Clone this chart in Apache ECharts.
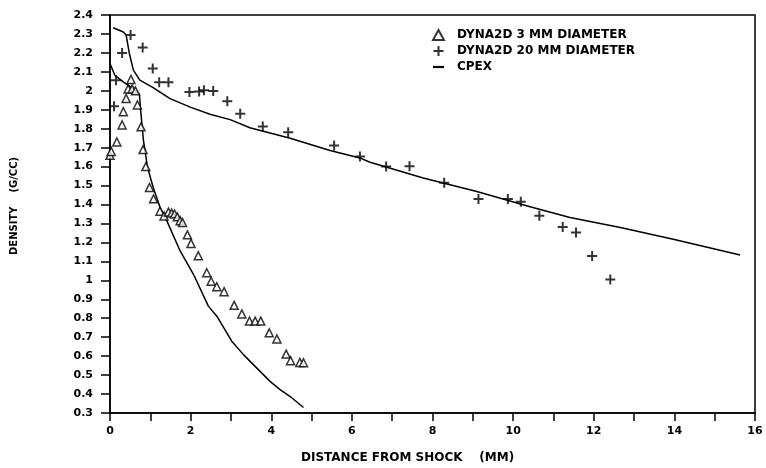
<!DOCTYPE html>
<html>
<head>
<meta charset="utf-8">
<script src="https://cdn.jsdelivr.net/npm/echarts@6/dist/echarts.min.js"></script>
<style>html,body{margin:0;padding:0;background:#fff}#c{width:766px;height:468px}</style>
</head>
<body>
<div id="c"></div>
<script>
// ---- data ----
const seriesNames = ['DYNA2D 3 MM DIAMETER', 'DYNA2D 20 MM DIAMETER', 'CPEX'];
const xTitle = 'DISTANCE FROM SHOCK    (MM)';
const yTitle = 'DENSITY    (G/CC)';

const dyna3mm = [
  [0.0,1.66],[0.03,1.68],[0.17,1.73],[0.30,1.82],[0.33,1.89],[0.40,1.96],[0.45,2.01],
  [0.52,2.06],[0.55,2.01],[0.63,2.0],[0.68,1.925],[0.77,1.81],[0.82,1.69],[0.89,1.60],
  [0.98,1.49],[1.08,1.43],[1.24,1.365],[1.34,1.34],[1.45,1.36],[1.53,1.355],[1.60,1.35],
  [1.67,1.335],[1.74,1.315],[1.80,1.305],[1.92,1.24],[2.01,1.195],[2.19,1.13],[2.40,1.04],
  [2.51,0.995],[2.65,0.966],[2.83,0.94],[3.08,0.868],[3.27,0.823],[3.46,0.785],[3.60,0.785],
  [3.74,0.785],[3.95,0.723],[4.14,0.691],[4.37,0.611],[4.48,0.576],[4.71,0.567],[4.80,0.565]
];

const dyna20mm = [
  [0.15,2.056],[0.10,1.918],[0.30,2.199],[0.51,2.294],[0.81,2.229],[1.06,2.118],[1.22,2.045],
  [1.45,2.045],[1.97,1.994],[2.21,1.997],[2.33,2.003],[2.56,1.999],[2.91,1.945],[3.23,1.879],
  [3.79,1.812],[4.42,1.782],[5.56,1.711],[6.20,1.653],[6.85,1.600],[7.43,1.602],[8.29,1.515],
  [9.14,1.429],[9.87,1.429],[10.19,1.415],[10.65,1.341],[11.23,1.282],[11.56,1.252],
  [11.96,1.129],[12.41,1.005]
];

const cpex20mm = [
  [0.08,2.333],[0.33,2.31],[0.40,2.294],[0.48,2.197],[0.58,2.109],[0.74,2.056],[1.07,2.017],
  [1.49,1.959],[1.99,1.914],[2.48,1.876],[2.98,1.848],[3.47,1.805],[4.47,1.75],[5.46,1.685],
  [6.20,1.646],[6.45,1.623],[7.77,1.540],[9.10,1.469],[10.42,1.388],[11.41,1.332],
  [12.66,1.279],[14.0,1.215],[15.63,1.134]
];

const cpex3mm = [
  [0,2.144],[0.12,2.082],[0.33,2.047],[0.54,2.017],[0.73,1.982],[0.76,1.897],[0.83,1.738],
  [0.93,1.597],[1.07,1.491],[1.24,1.385],[1.41,1.314],[1.74,1.155],[2.07,1.032],[2.44,0.864],
  [2.65,0.811],[3.02,0.679],[3.31,0.608],[3.60,0.546],[3.97,0.467],[4.22,0.423],[4.47,0.387],
  [4.80,0.329]
];

// ---- chart ----
const FONT = 'DejaVu Sans';
const plusPath = 'path://M4,0h2v4h4v2h-4v4h-2v-4h-4v-2h4z';
const dashPath = 'path://M0,4h10v2h-10z';

const chart = echarts.init(document.getElementById('c'), null, {renderer: 'canvas'});
chart.setOption({
  animation: false,
  backgroundColor: '#fff',
  grid: {left: 110, right: 11, top: 15, bottom: 55, show: true, borderColor: '#000', borderWidth: 1.5},
  legend: {
    orient: 'vertical', left: 427, top: 24, itemGap: 4, itemWidth: 11, itemHeight: 10,
    textStyle: {fontFamily: FONT, fontWeight: 'bold', fontSize: 12, color: '#000', padding: [0,0,0,8]},
    data: [
      {name: seriesNames[0], icon: 'triangle'},
      {name: seriesNames[1], icon: plusPath},
      {name: seriesNames[2], icon: dashPath}
    ]
  },
  xAxis: {
    type: 'value', min: 0, max: 16, interval: 1,
    axisLine: {lineStyle: {color: '#000', width: 1.5}},
    axisTick: {length: 8, lineStyle: {color: '#000', width: 1.5}},
    splitLine: {show: false},
    axisLabel: {
      fontFamily: FONT, fontWeight: 'bold', fontSize: 11, color: '#000', margin: 13,
      formatter: v => (Math.round(v) % 2 === 0 ? String(Math.round(v)) : '')
    }
  },
  yAxis: {
    type: 'value', min: 0.3, max: 2.4, interval: 0.1,
    axisLine: {lineStyle: {color: '#000', width: 1.5}},
    axisTick: {length: 9, lineStyle: {color: '#000', width: 1.5}},
    splitLine: {show: false},
    axisLabel: {
      fontFamily: FONT, fontWeight: 'bold', fontSize: 11, color: '#000', margin: 17,
      formatter: v => String(parseFloat(v.toFixed(1)))
    }
  },
  graphic: [
    {type: 'text', left: 301, top: 452, style: {text: xTitle, fontFamily: FONT, fontWeight: 'bold', fontSize: 12, fill: '#000'}},
    {type: 'text', x: 9, y: 255, rotation: Math.PI / 2, style: {text: yTitle, fontFamily: FONT, fontWeight: 'bold', fontSize: 10, fill: '#000'}}
  ],
  series: [
    {
      name: seriesNames[0], type: 'scatter', data: dyna3mm, symbol: 'triangle', symbolSize: 8,
      itemStyle: {color: '#fff', borderColor: '#000', borderWidth: 1.5}, z: 3
    },
    {
      name: seriesNames[1], type: 'scatter', data: dyna20mm, symbol: plusPath, symbolSize: 10,
      itemStyle: {color: '#000'}, z: 3
    },
    {
      name: seriesNames[2], type: 'line', data: cpex20mm, showSymbol: false, symbol: 'none',
      lineStyle: {color: '#000', width: 1.5}, itemStyle: {color: '#000'}
    },
    {
      name: seriesNames[2], type: 'line', data: cpex3mm, showSymbol: false, symbol: 'none',
      lineStyle: {color: '#000', width: 1.5}, itemStyle: {color: '#000'}
    }
  ]
});
</script>
</body>
</html>
